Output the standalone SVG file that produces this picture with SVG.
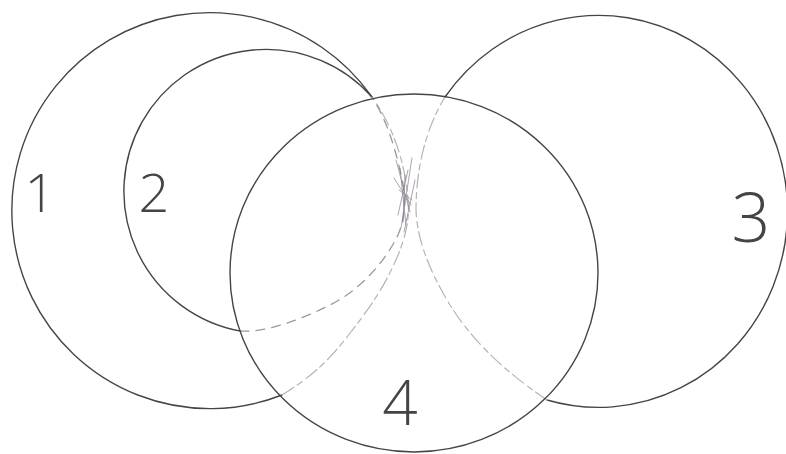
<svg xmlns="http://www.w3.org/2000/svg" width="786" height="454" viewBox="0 0 786 454">
<style>
.solid{fill:none;stroke:#454545;stroke-width:1.4;stroke-linecap:round}
.faint{fill:none;stroke:#9a9a9a;stroke-width:1.3;stroke-linecap:round;stroke-dasharray:9 7}
.faint2{fill:none;stroke:#b4b4b4;stroke-width:1.2;stroke-linecap:round;stroke-dasharray:14 4 6 5}
.hatch{fill:none;stroke:#8c8090;stroke-width:0.9;stroke-linecap:round;opacity:0.8}
.lbl{font-family:"Open Sans","Liberation Sans",sans-serif;font-weight:300;fill:#444;text-anchor:middle}
</style>
<rect width="786" height="454" fill="#ffffff"/>
<g id="set1">
<path class="solid" d="M372,97 A198,198 0 1 0 282,395"/>
<path class="faint2" d="M282,395 C310,378 330,360 350,333 C370,308 385,285 395,262 C405,240 410,220 408,200 C405,160 392,125 372,97"/>
<text class="lbl" x="40" y="212" font-size="54">1</text>
</g>
<g id="set2">
<path class="solid" d="M372,97 A142,142 0 1 0 240,331"/>
<path class="faint" d="M240,331 C265,333 300,320 330,305 C360,290 385,262 398,235 C408,212 405,190 400,170 C393,140 385,118 372,97"/>
<text class="lbl" x="154" y="212" font-size="54">2</text>
</g>
<g id="set3">
<path class="solid" d="M445,97 A189,196 0 1 1 547,400"/>
<path class="faint2" d="M547,400 C510,375 475,345 450,305 C430,272 417,240 416,210 C416,170 425,130 445,97"/>
<text class="lbl" x="751" y="242" font-size="68">3</text>
</g>
<g id="set4">
<ellipse class="solid" cx="414" cy="273" rx="184" ry="179"/>
<text class="lbl" x="400" y="425" font-size="62">4</text>
</g>
<g id="connectors">
<path class="hatch" d="M396,160 L410,212 M400,168 L406,225 M394,178 L411,205 M412,158 L401,228 M405,175 L403,222 M399,190 L412,200 M408,170 L398,215 M415,180 L404,232"/>
</g>
</svg>
